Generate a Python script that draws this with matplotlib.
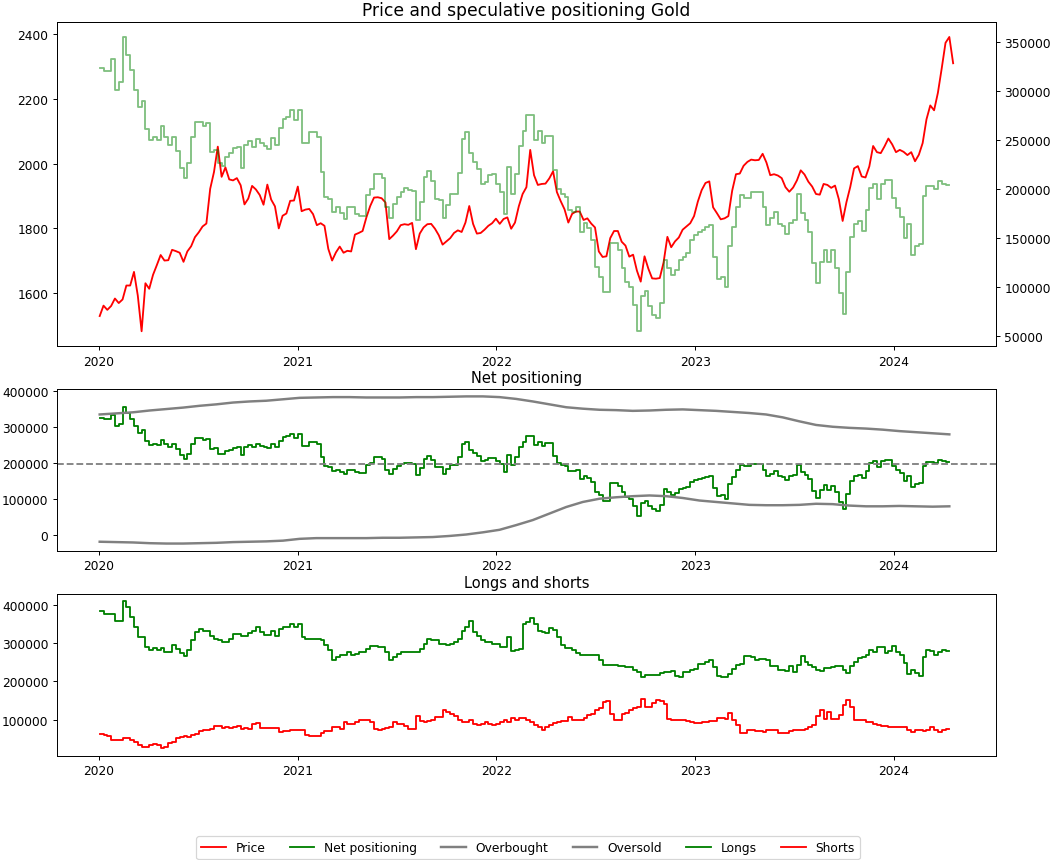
import numpy as np
import pandas as pd
import matplotlib
matplotlib.use("Agg")
import matplotlib.pyplot as plt
import matplotlib.dates as mdates

# ---------------- data (weekly, starting 2020-01-03) ----------------
week_start = "2020-01-03"

price = [1530, 1562, 1549, 1561, 1584, 1570, 1581, 1624, 1624, 1666, 1593, 1483, 1631, 1614, 1657, 1687,
         1718, 1701, 1702, 1734, 1730, 1725, 1697, 1729, 1745, 1773, 1788, 1806, 1815, 1922, 1974, 2052,
         1959, 1988, 1951, 1948, 1955, 1933, 1874, 1892, 1931, 1920, 1903, 1873, 1935, 1889, 1868, 1800,
         1839, 1846, 1885, 1886,
         1929, 1853, 1858, 1860, 1844, 1810, 1816, 1808, 1737, 1701, 1726, 1744, 1725, 1731, 1729, 1781,
         1786, 1792, 1834, 1869, 1895, 1896, 1893, 1880, 1767, 1778, 1791, 1810, 1813, 1811, 1817, 1736,
         1784, 1803, 1813, 1814, 1799, 1779, 1750, 1760, 1770, 1786, 1794, 1789, 1818, 1869, 1814, 1784,
         1786, 1796, 1808, 1816, 1830, 1814, 1829, 1834, 1799, 1818, 1868, 1906,
         1927, 2042, 1964, 1934, 1937, 1938, 1954, 1976, 1912, 1884, 1859, 1818, 1845, 1852, 1852, 1826,
         1831, 1815, 1803, 1729, 1712, 1714, 1770, 1792, 1792, 1759, 1747, 1713, 1719, 1670, 1636, 1714,
         1676, 1646, 1645, 1647, 1695, 1774, 1742, 1760, 1772, 1796, 1806, 1816, 1838, 1883, 1918, 1940,
         1945, 1865, 1847, 1828, 1831, 1838, 1916, 1967, 1969, 1993, 2005, 2012, 2010, 2011, 2030,
         2003, 1964, 1967, 1963, 1955, 1927, 1913, 1926, 1948, 1979, 1966, 1944, 1929, 1906, 1904, 1937,
         1934, 1925, 1932, 1890, 1823, 1881, 1928, 1985, 1992, 1960, 1957, 1991, 2054, 2035, 2032, 2053,
         2077, 2059, 2035, 2042, 2036, 2026, 2035, 2007, 2027, 2063, 2136, 2179, 2164, 2218, 2293, 2372,
         2390, 2309]

# net speculative positioning, thousands of contracts
net_k = [323.7, 320.6, 320.6, 333, 301, 309, 355, 337, 321, 301, 283, 290, 261, 250, 253, 250,
         264, 253, 245, 253, 239, 221, 211, 226, 253, 268, 268, 264, 267, 238, 240, 226,
         223.5, 232, 236, 242, 243, 221, 245, 249, 243, 251, 247, 244, 241, 252, 245, 262,
         271, 273.5, 280, 270,
         280, 247, 247, 258, 258, 253, 217, 191.6, 190, 176.5, 181.6, 175.5, 169, 181.6, 181.6, 174,
         172.6, 172.6, 193.7, 200, 215.5, 215, 210.5, 181.6, 169.6, 184, 191.6, 196.7, 200.8, 198.4,
         197.4, 167.8, 186.5, 212, 218, 207.8, 190, 188.6, 169.6, 183, 195, 195, 216, 251, 257.7, 236,
         227.6, 219.8, 204.5, 207, 213.9, 214.6, 204.5, 196.4, 174, 222.5, 195, 215.5, 244, 259,
         275, 275, 249.5, 258.6, 246.6, 254, 254, 219, 200, 195, 191.6, 178, 176.5, 181.6, 156, 164.5,
         159.4, 147.5, 120, 110, 94.6, 94.6, 144.8, 144.8, 137, 119, 105, 100, 81.7, 54.4, 90, 96,
         80, 71.5, 68, 83.4, 127.5, 119, 112, 116.6, 127, 130.6, 134, 147.5, 152.6, 156, 158, 161,
         162.5, 130.6, 107.5, 110, 100, 141, 161, 181.6, 193.7, 190.4, 190.4, 196.7, 196.7, 196.7,
         181.6, 162.5, 169.6, 176.5, 164, 161.8, 154, 164.5, 167.8, 194.4, 175.5, 167.8, 156, 123.7,
         103.3, 125, 137.8, 125, 137, 119, 93, 72.5, 114.7, 151, 164, 167.5, 157, 178.5, 200.7, 205,
         189.4, 204.5, 209, 209, 190.4, 180, 171, 149.6, 163.6, 132.5, 141, 143.8, 192.7, 203, 203,
         200, 208, 204.5, 203.5, 203.5]

longs_k = [385.2, 376.5, 376.5, 376.5, 357.4, 357.4, 409.6, 393.9, 367.8, 341.7, 317.4, 317.4, 289.6,
           282.6, 287.8, 280.9, 287.8, 276.5, 276.5, 293.9, 285.2, 273.9, 265.2, 280.9, 307, 328.7,
           337.4, 333, 333, 320, 311.3, 307, 302.6, 302.6, 311.3, 324.3, 324.3, 320, 320, 326.1, 333,
           341.7, 328.7, 322.6, 322.6, 333, 320, 337.4, 343.5, 343.5, 350.4, 341.7, 350.4, 317.4,
           311.3, 311.3,
           311.3, 311.3, 307, 293.9, 280.9, 256.5, 263.5, 267.8, 267.8, 276.5, 267.8, 272.2, 276.5,
           276.5, 285.2, 291.3, 291.3, 289.6, 289.6, 276.5, 254.8, 263.5, 272.2, 276.5, 276.5, 276.5,
           276.5, 276.5, 285.2, 298.3, 311.3, 307, 307, 298.3, 298.3, 293.9, 298.3, 302.6, 311.3, 333,
           341.7, 359.1, 328.7, 320, 307, 302.6, 302.6, 298.3, 298.3, 289.6, 289.6, 315.6, 279.1,
           282.6, 285.2,
           350.4, 354.8, 366.1, 350.4, 331.3, 328.7, 326.1, 340, 334.8, 315.6, 293.9, 287.8, 287.8,
           282.6, 273.9, 269.6, 267.8, 267.8, 269.6, 269.6, 254.8, 243.5, 243.5, 243.5, 243.5, 239.1,
           239.1, 237.4, 237.4, 230.4, 224.3, 211.3, 215.6, 215.6, 215.6, 217.4, 221.7, 224.3, 224.3,
           226.9, 213, 211.3, 224.3, 224.3, 228.7, 233, 244.3, 244.3, 250.4, 256.5, 237.4, 213, 211.3,
           211.3, 220, 233, 241.7, 246.1, 265.2, 265.2, 263.5, 254.8, 259.1, 259.1, 256.5, 239.1,
           239.1, 228.7, 228.7, 226.9, 239.1, 224.3, 241.7, 265.2, 250.4, 241.7, 237.4, 230.4, 226.9,
           235.6, 235.6, 237.4, 239.1, 239.1, 228.7, 221.7, 239.1, 250.4, 261.7, 263.5, 267.8, 280.9,
           276.5, 289.6, 289.6, 273.9, 279.1, 291.3, 276.5, 267.8, 247.8, 220, 228.7, 221.7, 213,
           263.5, 282.6, 279.1, 267.8, 276.5, 280.9, 278.3, 278.3]

shorts_k = [61.7, 59.1, 56.5, 46.1, 46.1, 46.1, 53, 53, 46.1, 41.7, 33, 28.6, 28.6, 33, 35.6, 33,
            24.3, 26.9, 37.3, 41.7, 53, 54.7, 56.5, 54.7, 59.1, 63.4, 70.4, 72.1, 72.1, 76.5, 82.6,
            82.6, 79.1, 80.8, 79.1, 80.8, 82.6, 76.5, 79.1, 76.5, 89.5, 91.3, 79.1, 79.1, 79.1, 79.1,
            79.1, 67.8, 70.4, 70.4, 72.1, 72.1, 72.1, 72.1, 59.1, 56.5,
            56.5, 56.5, 65.2, 70.4, 70.4, 80.8, 80.8, 76.5, 93.9, 87.8, 89.5, 93.9, 100, 100, 100,
            93.9, 76.5, 72.1, 76.5, 79.1, 80.8, 93.9, 89.5, 87.8, 82.6, 76.5, 76.5, 108.7, 96.5, 93.9,
            96.5, 100, 106.9, 106.9, 124.3, 120, 115.6, 108.7, 98.2, 93.9, 93.9, 100, 87.8, 85.2,
            89.5, 93.9, 89.5, 85.2, 87.8, 93.9, 100, 93.9, 105.2, 100, 105.2,
            105.2, 100, 93.9, 85.2, 80.8, 73.9, 80.8, 85.2, 91.3, 93.9, 95.6, 96.5, 106.9, 98.2, 98.2,
            98.2, 105.2, 111.3, 113.9, 124.3, 131.3, 146.1, 148.7, 113.9, 100, 100, 115.6, 117.4,
            126.1, 131.3, 133, 154.8, 133, 133, 143.4, 152.1, 148.7, 141.7, 102.6, 98.2, 100, 98.2,
            98.2, 96.5, 93.9, 91.3, 91.3, 93.9, 93.9, 95.6, 95.6, 105.2, 105.2, 102.6, 117.4, 100,
            85.2, 65.2, 65.2, 72.1, 72.1, 70.4, 70.4, 67.8, 72.1, 73.9, 73.9, 65.2, 65.2, 65.2, 70.4,
            72.1, 73.9, 73.9, 76.5, 80.8, 85.2, 108.7, 124.3, 102.6, 120, 102.6, 102.6, 111.3, 137.4,
            150.4, 133, 100, 100, 98.2, 93.9, 93.9, 87.8, 85.2, 82.6, 82.6, 80.8, 80.8, 80.8, 80.8,
            80.8, 72.1, 67.8, 73.9, 72.1, 70.4, 73.9, 80.8, 73.9, 67.8, 73.9, 76.5, 76.5]

# overbought / oversold bands (monthly, thousands)
overbought_k = [334, 337, 340, 345, 349, 353, 358, 362, 367, 370, 372, 376,
                380, 381, 382, 382, 381, 381, 381, 382, 382, 383, 384, 384,
                382, 377, 370, 362, 354, 350, 347, 346, 344, 345, 347, 348,
                346, 344, 341, 338, 334, 326, 315, 305, 300, 297, 295, 292,
                288, 285, 282, 279]
oversold_k = [-18, -19, -20, -22, -23, -23, -22, -21, -19, -18, -17, -15,
              -10, -8, -8, -8, -8, -7, -7, -6, -5, -2, 2, 8,
              15, 28, 42, 60, 78, 92, 101, 105, 108, 110, 108, 103,
              96, 92, 88, 84, 83, 83, 84, 87, 86, 82, 80, 80,
              81, 80, 79, 80]
band_start, band_end = "2020-01-03", "2024-04-12"
net_mean = 197000

# ---------------- build series ----------------
price_dates = pd.date_range(week_start, periods=len(price), freq="7D")
net = np.array(net_k) * 1000
net_dates = pd.date_range(week_start, periods=len(net), freq="7D")
longs = np.array(longs_k) * 1000
long_dates = pd.date_range(week_start, periods=len(longs), freq="7D")
shorts = np.array(shorts_k) * 1000
short_dates = pd.date_range(week_start, periods=len(shorts), freq="7D")
overbought = np.array(overbought_k) * 1000
oversold = np.array(oversold_k) * 1000
band_dates = pd.date_range(band_start, band_end, periods=len(overbought))

# ---------------- figure ----------------
fig = plt.figure(figsize=(12, 9.784), dpi=88)
ax1 = fig.add_axes([0.054, 0.597, 0.889, 0.376])
ax2 = fig.add_axes([0.054, 0.359, 0.889, 0.188])
ax3 = fig.add_axes([0.054, 0.121, 0.889, 0.188])

# top: price + net positioning on twin axis
l_price, = ax1.plot(price_dates, price, color="red", lw=1.5, label="Price")
ax1b = ax1.twinx()
ax1b.plot(net_dates, net, color="green", alpha=0.5, lw=1.5, drawstyle="steps-post")
ax1.set_title("Price and speculative positioning Gold", fontsize=14)

# middle: net positioning with bands
l_net, = ax2.plot(net_dates, net, color="green", lw=1.5, drawstyle="steps-post",
                  label="Net positioning")
l_ob, = ax2.plot(band_dates, overbought, color="grey", lw=2, label="Overbought")
l_os, = ax2.plot(band_dates, oversold, color="grey", lw=2, label="Oversold")
ax2.axhline(net_mean, color="grey", ls="--", lw=1.5)
ax2.set_title("Net positioning")

# bottom: longs and shorts
l_long, = ax3.plot(long_dates, longs, color="green", lw=1.5, drawstyle="steps-post", label="Longs")
l_short, = ax3.plot(short_dates, shorts, color="red", lw=1.5, drawstyle="steps-post", label="Shorts")
ax3.set_title("Longs and shorts")

xl = ax1.get_xlim()
for ax in (ax1, ax2, ax3):
    ax.set_xlim(xl)
    ax.xaxis.set_major_locator(mdates.YearLocator())
    ax.xaxis.set_major_formatter(mdates.DateFormatter("%Y"))

handles = [l_price, l_net, l_ob, l_os, l_long, l_short]
fig.legend(handles, [h.get_label() for h in handles], loc="lower center",
           ncol=6, bbox_to_anchor=(0.5, -0.006))

fig.savefig("out.png", dpi=88)
